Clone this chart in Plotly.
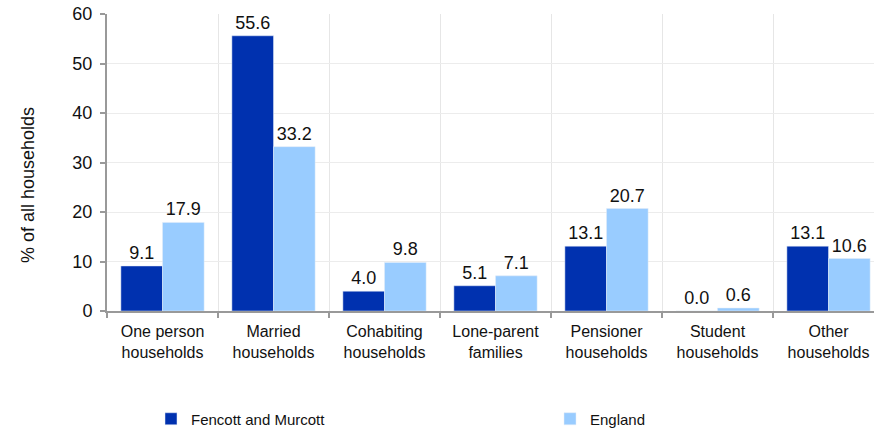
import plotly.graph_objects as go

categories = ["One person<br>households", "Married<br>households", "Cohabiting<br>households",
              "Lone-parent<br>families", "Pensioner<br>households", "Student<br>households",
              "Other<br>households"]
local_name = "Fencott and Murcott"
local_values = [9.1, 55.6, 4.0, 5.1, 13.1, 0.0, 13.1]
england_name = "England"
england_values = [17.9, 33.2, 9.8, 7.1, 20.7, 0.6, 10.6]
y_ticks = [0, 10, 20, 30, 40, 50, 60]
y_title = "% of all households"

DARK = "#0031AF"
LIGHT = "#99CCFF"
FONT = "Liberation Sans, Arial, sans-serif"

L, R, T, B = 107, 0, 14, 121
W, H = 874, 432
PW, PH = W - L - R, H - T - B

fig = go.Figure()
fig.add_trace(go.Bar(x=categories, y=local_values, name=local_name, marker_color=DARK,
                     text=[f"{v:.1f}" for v in local_values], textposition="outside",
                     textfont=dict(size=18, color="#111"), cliponaxis=False,
                     legend="legend"))
fig.add_trace(go.Bar(x=categories, y=england_values, name=england_name, marker_color=LIGHT,
                     text=[f"{v:.1f}" for v in england_values], textposition="outside",
                     textfont=dict(size=18, color="#111"), cliponaxis=False,
                     legend="legend2"))

def px_x(p):
    return (p - L) / PW

def px_y(p):
    return (H - B - p) / PH

fig.update_layout(
    width=W, height=H,
    margin=dict(l=L, r=R, t=T, b=B, autoexpand=False),
    plot_bgcolor="white", paper_bgcolor="white",
    font=dict(family=FONT, color="#111"),
    barmode="group", bargap=0.25, bargroupgap=0,
    showlegend=True,
    legend=dict(orientation="h", x=px_x(151), xanchor="left", y=px_y(419), yanchor="middle",
                font=dict(size=15), bgcolor="rgba(0,0,0,0)"),
    legend2=dict(orientation="h", x=px_x(550), xanchor="left", y=px_y(419), yanchor="middle",
                 font=dict(size=15), bgcolor="rgba(0,0,0,0)"),
)
fig.add_annotation(text=y_title, xref="paper", yref="paper", x=px_x(28), y=px_y(185),
                   xanchor="center", yanchor="middle", textangle=-90, showarrow=False,
                   font=dict(size=18, color="#111"))
fig.update_xaxes(
    type="category", tickson="boundaries", range=[-0.5, 6.5 - 10 / 111], automargin=False,
    showline=True, linecolor="#999", linewidth=2,
    ticks="outside", ticklen=5, tickcolor="#999", tickwidth=2,
    showgrid=True, gridcolor="#e6e6e6", gridwidth=1,
    tickfont=dict(size=16), ticklabelstandoff=5, fixedrange=True,
)
fig.update_yaxes(
    range=[0, 60], tickvals=y_ticks, showline=True, linecolor="#999", linewidth=2,
    ticks="outside", ticklen=5, tickcolor="#999", tickwidth=2, automargin=False,
    showgrid=True, gridcolor="#ececec", gridwidth=1, zeroline=False,
    tickfont=dict(size=18), ticklabelstandoff=4,
)
fig.write_html("out.html", config={"displayModeBar": False},
               post_script="document.body.style.margin='0';document.body.style.overflow='hidden';")
